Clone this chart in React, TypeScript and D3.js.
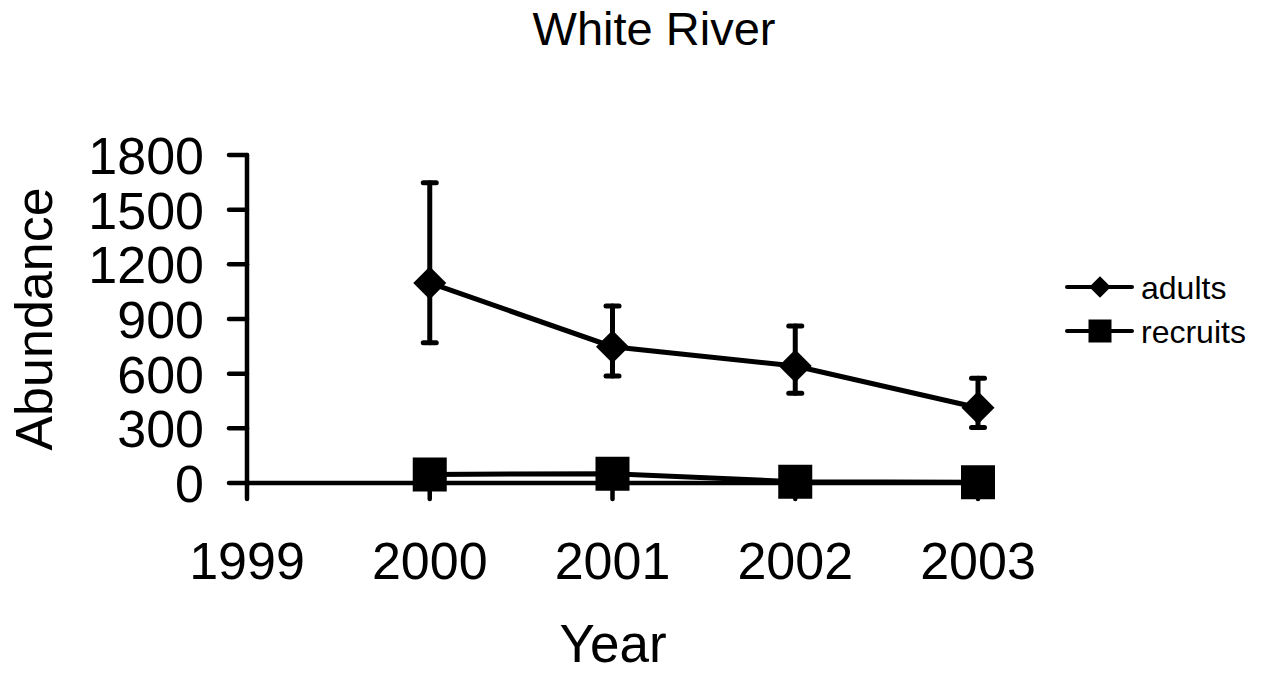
import { useEffect, useRef } from 'react';
import * as d3 from 'd3';

// values
const years = [2000, 2001, 2002, 2003];
const adults = [1098, 748, 642, 413];
const adultsUpper = [1648, 971, 862, 575];
const adultsLower = [770, 587, 492, 304];
const recruits = [47, 51, 7, 4];

const yTicks = [0, 300, 600, 900, 1200, 1500, 1800];
const xTicks = [1999, 2000, 2001, 2002, 2003];

const W = 1276;
const H = 674;
const FONT = 'Liberation Sans, Arial, Helvetica, sans-serif';

const App = () => {
  const svgRef = useRef<SVGSVGElement>(null);

  useEffect(() => {
    if (!svgRef.current) return;
    const svg = d3.select(svgRef.current);
    svg.selectAll('*').remove();

    const x = d3.scaleLinear().domain([1999, 2003]).range([247, 978]);
    const y = d3.scaleLinear().domain([0, 1800]).range([483, 155]);

    // title
    svg.append('text')
      .attr('x', 654).attr('y', 45)
      .attr('text-anchor', 'middle')
      .attr('font-family', FONT).attr('font-size', 47)
      .text('White River');

    // axes
    const axes = svg.append('g').attr('stroke', '#000').attr('stroke-width', 4.5).attr('stroke-linecap', 'round');
    axes.append('line')
      .attr('x1', x(1999)).attr('x2', x(1999))
      .attr('y1', y(1800)).attr('y2', y(0));
    axes.append('line')
      .attr('x1', x(1999)).attr('x2', x(2003))
      .attr('y1', y(0)).attr('y2', y(0));
    axes.selectAll('line.yt')
      .data(yTicks)
      .join('line')
      .attr('class', 'yt')
      .attr('x1', x(1999) - 18).attr('x2', x(1999))
      .attr('y1', d => y(d)).attr('y2', d => y(d));
    axes.selectAll('line.xt')
      .data(xTicks)
      .join('line')
      .attr('class', 'xt')
      .attr('x1', d => x(d)).attr('x2', d => x(d))
      .attr('y1', y(0)).attr('y2', y(0) + 16);

    svg.append('g')
      .selectAll('text')
      .data(yTicks)
      .join('text')
      .attr('x', 204)
      .attr('y', d => y(d) + 19)
      .attr('text-anchor', 'end')
      .attr('font-family', FONT).attr('font-size', 52)
      .text(d => d);

    svg.append('g')
      .selectAll('text')
      .data(xTicks)
      .join('text')
      .attr('x', d => x(d))
      .attr('y', 579)
      .attr('text-anchor', 'middle')
      .attr('font-family', FONT).attr('font-size', 52)
      .text(d => d);

    // axis titles
    svg.append('text')
      .attr('x', 613).attr('y', 662)
      .attr('text-anchor', 'middle')
      .attr('font-family', FONT).attr('font-size', 53)
      .text('Year');
    svg.append('text')
      .attr('transform', `translate(52,${(y(0) + y(1800)) / 2}) rotate(-90)`)
      .attr('text-anchor', 'middle')
      .attr('font-family', FONT).attr('font-size', 52)
      .text('Abundance');

    const line = d3.line<[number, number]>()
      .x(d => x(d[0]))
      .y(d => y(d[1]));

    const diamond = d3.symbol().type(d3.symbolSquare).size(545);
    const square = d3.symbol().type(d3.symbolSquare).size(34 * 34);

    // recruits
    svg.append('path')
      .datum(years.map((yr, i) => [yr, recruits[i]] as [number, number]))
      .attr('d', line)
      .attr('fill', 'none').attr('stroke', '#000').attr('stroke-width', 5);
    svg.append('g')
      .selectAll('path')
      .data(years)
      .join('path')
      .attr('transform', (d, i) => `translate(${x(d)},${y(recruits[i])})`)
      .attr('d', square)
      .attr('fill', '#000');

    // adults error bars
    const eb = svg.append('g').attr('stroke', '#000').attr('stroke-width', 5).attr('stroke-linecap', 'round');
    eb.selectAll('line.v')
      .data(years)
      .join('line')
      .attr('class', 'v')
      .attr('x1', d => x(d)).attr('x2', d => x(d))
      .attr('y1', (d, i) => y(adultsUpper[i])).attr('y2', (d, i) => y(adultsLower[i]));
    eb.selectAll('line.cu')
      .data(years)
      .join('line')
      .attr('class', 'cu')
      .attr('x1', d => x(d) - 6.5).attr('x2', d => x(d) + 6.5)
      .attr('y1', (d, i) => y(adultsUpper[i])).attr('y2', (d, i) => y(adultsUpper[i]));
    eb.selectAll('line.cl')
      .data(years)
      .join('line')
      .attr('class', 'cl')
      .attr('x1', d => x(d) - 6.5).attr('x2', d => x(d) + 6.5)
      .attr('y1', (d, i) => y(adultsLower[i])).attr('y2', (d, i) => y(adultsLower[i]));

    // adults
    svg.append('path')
      .datum(years.map((yr, i) => [yr, adults[i]] as [number, number]))
      .attr('d', line)
      .attr('fill', 'none').attr('stroke', '#000').attr('stroke-width', 5);
    svg.append('g')
      .selectAll('path')
      .data(years)
      .join('path')
      .attr('transform', (d, i) => `translate(${x(d)},${y(adults[i])}) rotate(45)`)
      .attr('d', diamond)
      .attr('fill', '#000');

    // legend
    const legend = svg.append('g');
    const items = [
      { label: 'adults', sym: d3.symbol().type(d3.symbolSquare).size(230), rot: 45, ly: 287 },
      { label: 'recruits', sym: d3.symbol().type(d3.symbolSquare).size(23 * 23), rot: 0, ly: 331 },
    ];
    items.forEach(it => {
      legend.append('line')
        .attr('x1', 1067).attr('x2', 1132)
        .attr('y1', it.ly).attr('y2', it.ly)
        .attr('stroke', '#000').attr('stroke-width', 4).attr('stroke-linecap', 'round');
      legend.append('path')
        .attr('transform', `translate(1100,${it.ly}) rotate(${it.rot})`)
        .attr('d', it.sym)
        .attr('fill', '#000');
      legend.append('text')
        .attr('x', 1141).attr('y', it.ly + 12)
        .attr('font-family', FONT).attr('font-size', 32)
        .text(it.label);
    });
  }, []);

  return (
    <svg
      ref={svgRef}
      width={W}
      height={H}
      style={{ position: 'absolute', left: 0, top: 0, background: '#fff' }}
    />
  );
};

export default App;
